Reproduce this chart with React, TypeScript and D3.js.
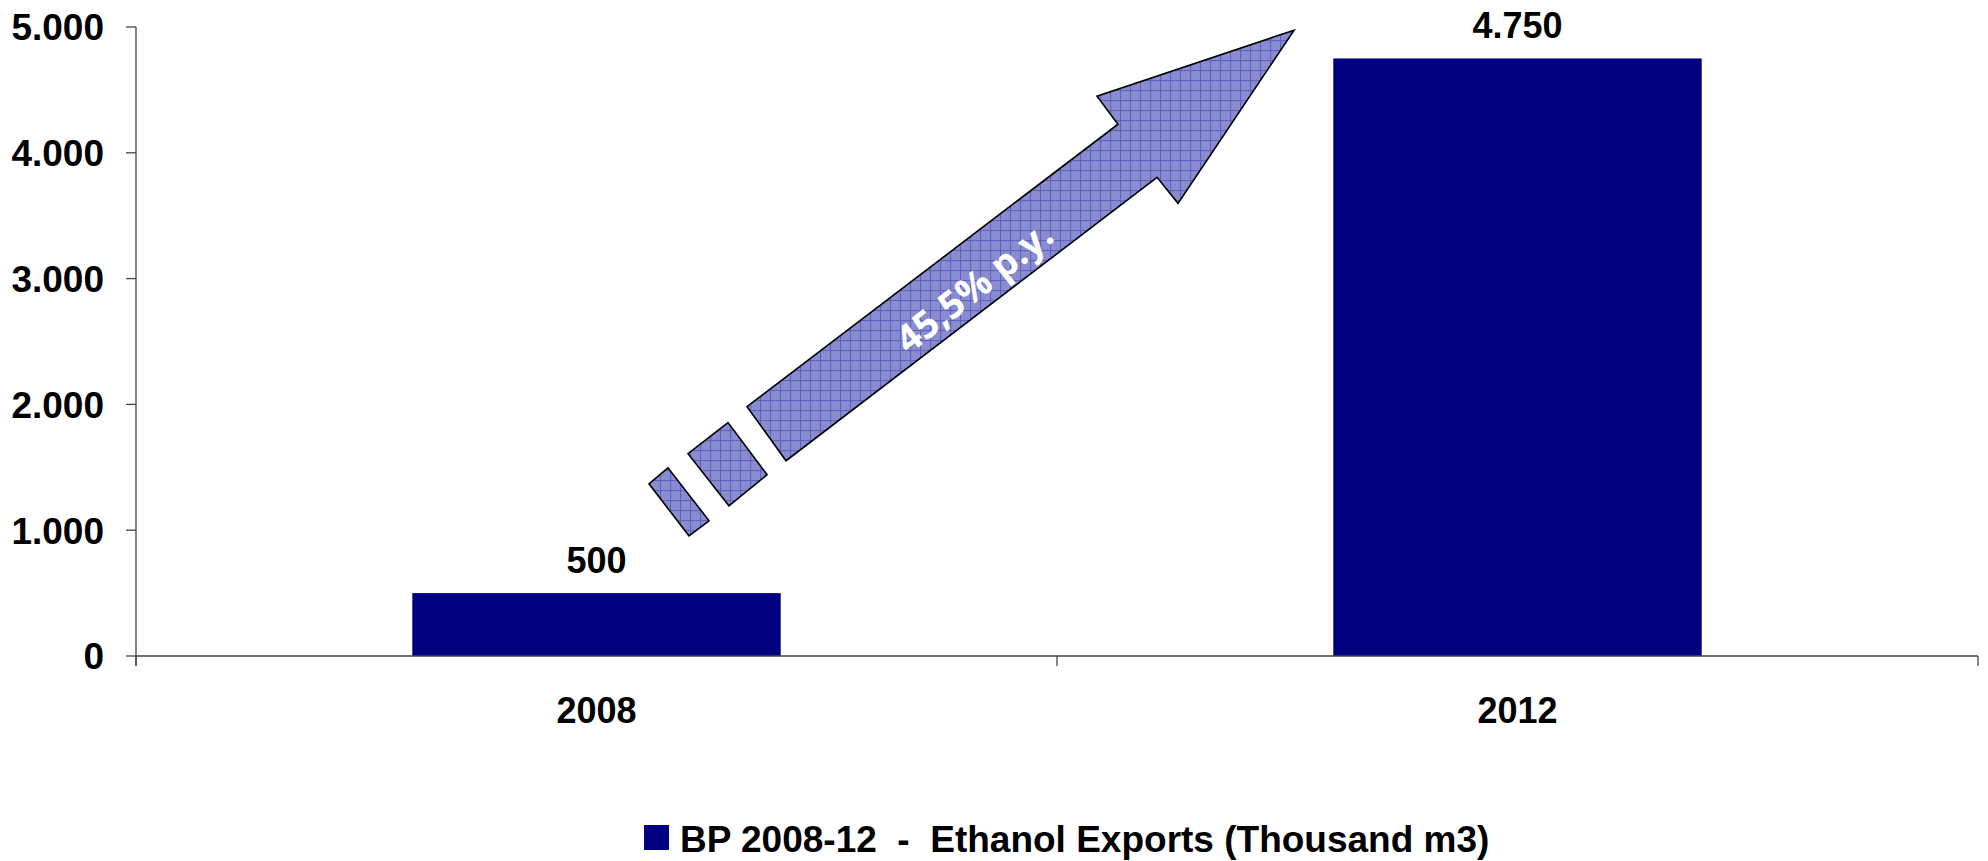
import { useEffect } from "react";
import { scaleBand, scaleLinear, line as d3line } from "d3";

const years = ["2008", "2012"];
const exports = [500, 4750];
const valueLabels = ["500", "4.750"];
const yTicks = [0, 1000, 2000, 3000, 4000, 5000];
const yTickLabels = ["0", "1.000", "2.000", "3.000", "4.000", "5.000"];
const seriesName = "BP 2008-12  -  Ethanol Exports (Thousand m3)";
const growthLabel = "45,5% p.y.";

// arrow annotation, anchored in chart space: [fraction of plot width, value]
const arrowHead: [number, number][] = [
  [0.6287, 4975],
  [0.5217, 4450],
  [0.5331, 4227],
  [0.3317, 1982],
  [0.3529, 1552],
  [0.5543, 3805],
  [0.5657, 3598],
];
const dash2: [number, number][] = [
  [0.3214, 1855],
  [0.2997, 1608],
  [0.3219, 1194],
  [0.3426, 1441],
];
const dash1: [number, number][] = [
  [0.2888, 1496],
  [0.2785, 1369],
  [0.3002, 955],
  [0.3111, 1075],
];

const W = 1988;
const H = 861;
const left = 136;
const right = 1978;
const top = 27;
const bottom = 656;
const font = "'Liberation Sans', Arial, sans-serif";
const navy = "#000080";

export default function App() {
  useEffect(() => {
    document.body.style.margin = "0";
  }, []);

  const x = scaleBand<string>()
    .domain(years)
    .range([left, right])
    .paddingInner(0.6)
    .paddingOuter(0.3);
  const step = (right - left) / years.length;

  const y = scaleLinear().domain([0, 5000]).range([bottom, top]);
  const fx = scaleLinear().domain([0, 1]).range([left, right]);

  const shape = d3line<[number, number]>()
    .x((d) => fx(d[0]))
    .y((d) => y(d[1]));
  const closed = (pts: [number, number][]) => shape(pts)! + "Z";

  const labelPos = { x: fx(0.455), y: y(2935) };

  return (
    <svg width={W} height={H} style={{ display: "block", background: "#fff" }}>
      <defs>
        <pattern id="hatch" width={10} height={10} patternUnits="userSpaceOnUse">
          <rect width={10} height={10} fill="#7d81cc" />
          <path
            d="M0 3H10M0 5H10M0 7H10M0 9H10M3 0V10M5 0V10M7 0V10M9 0V10"
            stroke="#9295d6"
            strokeWidth={0.6}
          />
          <path d="M0 0.5H10M0.5 0V10" stroke="#5a5fbb" strokeWidth={0.9} />
        </pattern>
      </defs>

      {/* bars */}
      {years.map((yr, i) => (
        <rect
          key={yr}
          x={x(yr)}
          y={y(exports[i])}
          width={x.bandwidth()}
          height={y(0) - y(exports[i])}
          fill={navy}
        />
      ))}

      {/* value labels */}
      {years.map((yr, i) => (
        <text
          key={yr}
          x={x(yr)! + x.bandwidth() / 2}
          y={y(exports[i]) - 20}
          textAnchor="middle"
          fontFamily={font}
          fontWeight="bold"
          fontSize={36}
          fill="#000"
        >
          {valueLabels[i]}
        </text>
      ))}

      {/* y axis */}
      <line x1={left} x2={left} y1={y(5000)} y2={y(0) + 10} stroke="#444" strokeWidth={1.3} />
      {yTicks.map((t, i) => (
        <g key={t}>
          <line x1={left - 10} x2={left} y1={y(t)} y2={y(t)} stroke="#444" strokeWidth={1.3} />
          <text
            x={left - 32}
            y={y(t)}
            dy="0.36em"
            textAnchor="end"
            fontFamily={font}
            fontWeight="bold"
            fontSize={37}
            fill="#000"
          >
            {yTickLabels[i]}
          </text>
        </g>
      ))}

      {/* x axis */}
      <line x1={left} x2={right} y1={y(0)} y2={y(0)} stroke="#444" strokeWidth={1.3} />
      {[0, 1, 2].map((k) => (
        <line
          key={k}
          x1={left + k * step}
          x2={left + k * step}
          y1={y(0)}
          y2={y(0) + 10}
          stroke="#444"
          strokeWidth={1.3}
        />
      ))}
      {years.map((yr) => (
        <text
          key={yr}
          x={x(yr)! + x.bandwidth() / 2}
          y={723}
          textAnchor="middle"
          fontFamily={font}
          fontWeight="bold"
          fontSize={36}
          fill="#000"
        >
          {yr}
        </text>
      ))}

      {/* growth arrow */}
      {[arrowHead, dash2, dash1].map((pts, i) => (
        <path
          key={i}
          d={closed(pts)}
          fill="url(#hatch)"
          stroke="#000"
          strokeWidth={1.6}
          strokeLinejoin="miter"
        />
      ))}
      <text
        x={labelPos.x}
        y={labelPos.y}
        transform={`rotate(-38 ${labelPos.x} ${labelPos.y})`}
        textAnchor="middle"
        dy="0.35em"
        fontFamily="'Open Sans', sans-serif"
        fontWeight="bold"
        fontSize={38}
        fill="#fff"
      >
        {growthLabel}
      </text>

      {/* legend */}
      <rect x={644} y={825} width={25} height={25} fill={navy} />
      <text
        x={680}
        y={852}
        fontFamily={font}
        fontWeight="bold"
        fontSize={37}
        fill="#000"
        style={{ whiteSpace: "pre" }}
      >
        {seriesName}
      </text>
    </svg>
  );
}
